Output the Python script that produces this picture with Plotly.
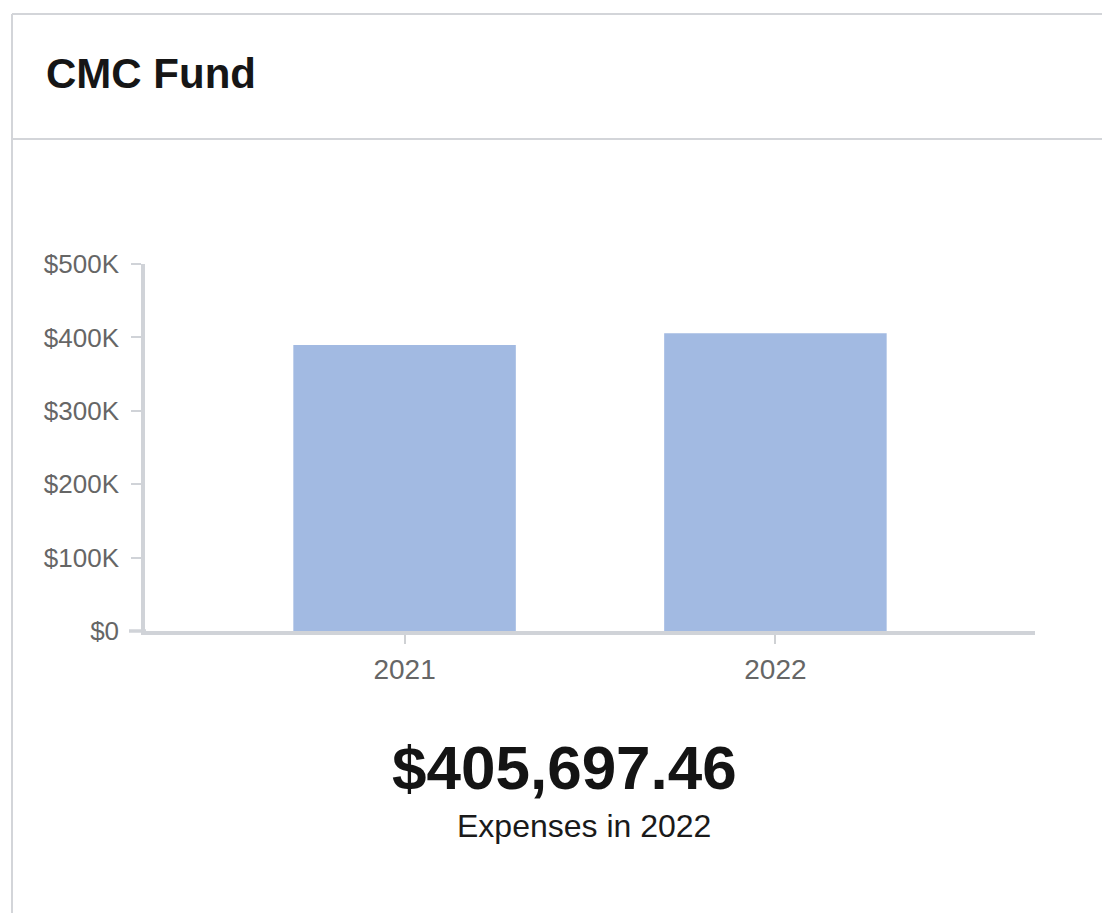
import plotly.graph_objects as go

# Data
years = ["2021", "2022"]
expenses = [389600.0, 405697.46]
y_tick_values = [0, 100000, 200000, 300000, 400000, 500000]
y_tick_labels = ["$0", "$100K", "$200K", "$300K", "$400K", "$500K"]
card_title = "CMC Fund"
summary_label = "Expenses in 2022"

W, H = 1102, 913
# plot area in pixels
PL, PR, PT, PB = 145, 1035, 264, 631

def px(x):
    return (x - PL) / (PR - PL)

def py(y):
    return (PB - y) / (PB - PT)

border = "#d3d5d9"
axis_col = "#d0d3d8"
font = "Liberation Sans, Arial, sans-serif"

fig = go.Figure(
    go.Bar(
        x=years,
        y=expenses,
        marker=dict(color="#a2bae2", line=dict(width=0)),
        hoverinfo="skip",
    )
)

shapes = [
    # card outline and header divider
    dict(type="line", xref="paper", yref="paper", x0=px(12), x1=px(12),
         y0=py(14), y1=py(930), line=dict(color=border, width=2)),
    dict(type="line", xref="paper", yref="paper", x0=px(12), x1=px(1120),
         y0=py(14), y1=py(14), line=dict(color=border, width=2)),
    dict(type="line", xref="paper", yref="paper", x0=px(12), x1=px(1120),
         y0=py(139), y1=py(139), line=dict(color=border, width=2)),
    # baseline extension left of the value axis
    dict(type="line", xref="paper", yref="paper", x0=px(129), x1=px(146),
         y0=0, y1=0, line=dict(color=axis_col, width=3.5), layer="above"),
]

annotations = [
    dict(text=f"<b>{card_title}</b>", xref="paper", yref="paper",
         x=px(44), y=py(73), xanchor="left", yanchor="middle",
         showarrow=False, font=dict(family=font, size=42, color="#161616")),
    dict(text=f"<b>${expenses[-1]:,.2f}</b>", xref="paper", yref="paper",
         x=px(564.5), y=py(767), xanchor="center", yanchor="middle",
         showarrow=False, font=dict(family=font, size=62, color="#141414")),
    dict(text=summary_label, xref="paper", yref="paper",
         x=px(583.5), y=py(826), xanchor="center", yanchor="middle",
         showarrow=False, font=dict(family=font, size=32, color="#1a1a1a")),
]

fig.update_layout(
    width=W, height=H,
    margin=dict(l=PL, r=W - PR, t=PT, b=H - PB, pad=0),
    paper_bgcolor="white", plot_bgcolor="white",
    showlegend=False,
    bargap=0.4,
    shapes=shapes,
    annotations=annotations,
    font=dict(family=font),
    xaxis=dict(
        type="category", range=[-0.7, 1.7],
        showline=True, linecolor=axis_col, linewidth=3.5,
        ticks="outside", ticklen=9, tickwidth=2, tickcolor="#cfd1d4",
        ticklabelstandoff=2,
        tickfont=dict(family=font, size=28, color="#666666"),
        showgrid=False, zeroline=False, fixedrange=True,
    ),
    yaxis=dict(
        range=[0, 500000],
        tickvals=y_tick_values, ticktext=y_tick_labels,
        showline=True, linecolor=axis_col, linewidth=3.5,
        ticks="outside", ticklen=10, tickwidth=2, tickcolor=axis_col,
        ticklabelstandoff=7,
        tickfont=dict(family=font, size=26, color="#666666"),
        showgrid=False, zeroline=False, fixedrange=True,
    ),
)

fig.write_html("out.html", config={"displayModeBar": False})
